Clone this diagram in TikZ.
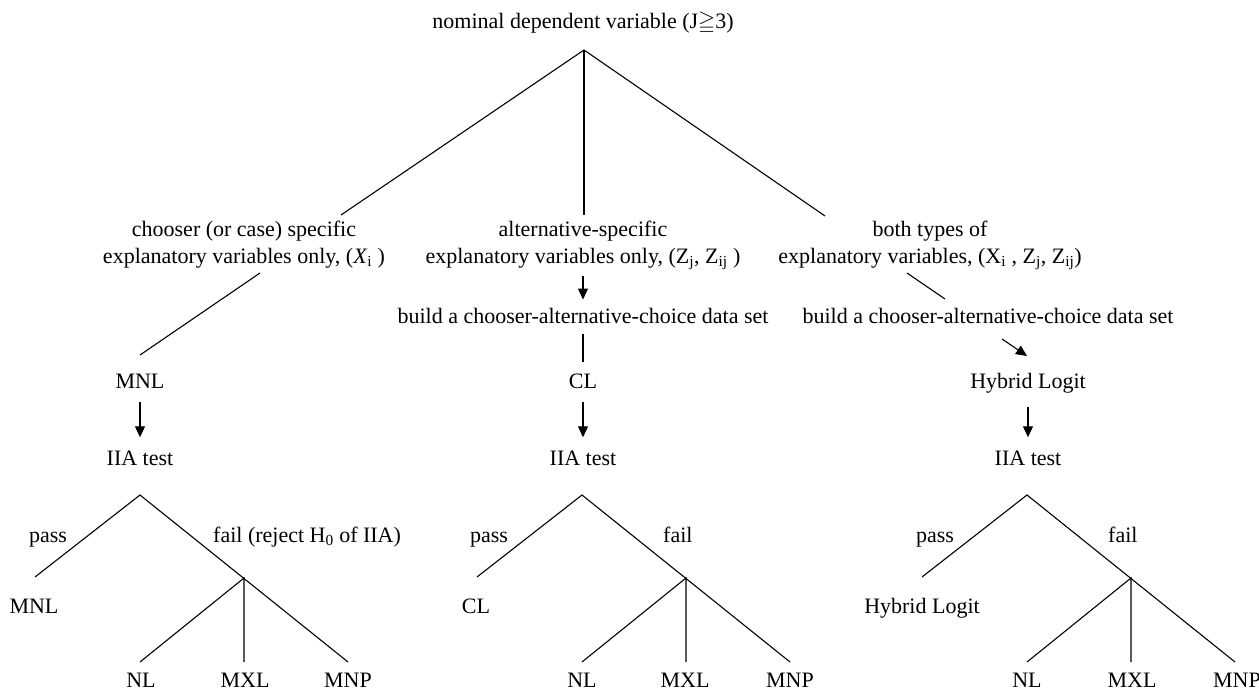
\documentclass[tikz,border=0pt]{standalone}
\usepackage{amssymb}
\usepackage{fontspec}
\setmainfont{Liberation Serif}
\usetikzlibrary{positioning}
\usetikzlibrary{arrows.meta}
\tikzset{
    mytext/.style = {inner sep=0pt, align=center, font=\fontsize{22}{27}\selectfont, text=black},
    mytextb/.style = {mytext, anchor=base},
    edgen/.style = {-, line width=1.1pt, black},
    edgea/.style = {-{Triangle[length=11pt,width=10pt]}, line width=1.1pt, black},
}

\begin{document}
\begin{tikzpicture}[x=1pt, y=-1pt]
  \useasboundingbox (0,0) rectangle (1259,698);

  % top
  \node[mytextb] (root) at (583,29) {nominal dependent variable (J$\geqq$3)};
  \coordinate (apex) at (584,50);
  \coordinate (endL) at (341,215);
  \coordinate (endM) at (584,215);
  \coordinate (endR) at (825,216);
  \draw[edgen] (endL) -- (apex) -- (endR);
  \draw[edgen] (apex) -- (endM);

  % second level
  \node[mytext] (chooser) at (244,245) {chooser (or case) specific\\explanatory variables only, (\textit{X}\textsubscript{i} )};
  \node[mytext] (altspec) at (583,245) {alternative-specific\\explanatory variables only, (Z\textsubscript{j}, Z\textsubscript{ij} )};
  \node[mytext] (both) at (930,245) {both types of\\explanatory variables, (X\textsubscript{i} , Z\textsubscript{j}, Z\textsubscript{ij})};

  \node[mytextb] (buildM) at (583,323) {build a chooser-alternative-choice data set};
  \node[mytextb] (buildR) at (988,323) {build a chooser-alternative-choice data set};

  \node[mytextb] (mnl) at (140,388) {MNL};
  \node[mytextb] (cl) at (583,388) {CL};
  \node[mytextb] (hybrid) at (1028,388) {Hybrid Logit};

  \node[mytextb] (iiaL) at (140,465) {IIA test};
  \node[mytextb] (iiaM) at (583,465) {IIA test};
  \node[mytextb] (iiaR) at (1028,465) {IIA test};

  % left column
  \coordinate (cL1) at (260,273);
  \coordinate (cL2) at (140,355);
  \draw[edgen] (cL1) -- (cL2);
  \draw[edgea, shorten <=14pt, shorten >=13pt] (mnl.south) -- (iiaL.north);

  % middle column
  \draw[edgea, shorten <=6pt, shorten >=8pt] (altspec.south) -- (buildM.north);
  \draw[edgen, shorten <=11pt, shorten >=11pt] (buildM.south) -- (cl.north);
  \draw[edgea, shorten <=14pt, shorten >=13pt] (cl.south) -- (iiaM.north);

  % right column
  \coordinate (cR1) at (907,273);
  \coordinate (cR2) at (945,299);
  \draw[edgen] (cR1) -- (cR2);
  \coordinate (cR3) at (1002,339);
  \coordinate (cR4) at (1027,356);
  \draw[edgea] (cR3) -- (cR4);
  \draw[edgea, shorten <=14pt, shorten >=13pt] (hybrid.south) -- (iiaR.north);

  % left test
  \coordinate (tL) at (140,495);
  \coordinate (pL) at (35,577);
  \coordinate (fL) at (244,578);
  \coordinate (rL) at (348,662);
  \coordinate (nL) at (140,662);
  \coordinate (xL) at (244,662);
  \draw[edgen] (pL) -- (tL) -- (rL);
  \draw[edgen] (nL) -- (fL) -- (xL);
  \node[mytextb] (passL) at (48,542) {pass};
  \node[mytextb, anchor=base west] (failL) at (213,542) {fail (reject H\textsubscript{0} of IIA)};
  \node[mytextb] (keepL) at (34,613) {MNL};
  \node[mytextb] (nlL) at (141,687) {NL};
  \node[mytextb] (mxlL) at (245,687) {MXL};
  \node[mytextb] (mnpL) at (348,687) {MNP};

  % middle test
  \coordinate (tM) at (582,495);
  \coordinate (pM) at (477,577);
  \coordinate (fM) at (686,578);
  \coordinate (rM) at (790,662);
  \coordinate (nM) at (582,662);
  \coordinate (xM) at (686,662);
  \draw[edgen] (pM) -- (tM) -- (rM);
  \draw[edgen] (nM) -- (fM) -- (xM);
  \node[mytextb] (passM) at (489,542) {pass};
  \node[mytextb, anchor=base west] (failM) at (663,542) {fail};
  \node[mytextb] (keepM) at (476,613) {CL};
  \node[mytextb] (nlM) at (582,687) {NL};
  \node[mytextb] (mxlM) at (685,687) {MXL};
  \node[mytextb] (mnpM) at (790,687) {MNP};

  % right test
  \coordinate (tR) at (1027,495);
  \coordinate (pR) at (922,577);
  \coordinate (fR) at (1131,578);
  \coordinate (rR) at (1235,662);
  \coordinate (nR) at (1027,662);
  \coordinate (xR) at (1131,662);
  \draw[edgen] (pR) -- (tR) -- (rR);
  \draw[edgen] (nR) -- (fR) -- (xR);
  \node[mytextb] (passR) at (935,542) {pass};
  \node[mytextb, anchor=base west] (failR) at (1108,542) {fail};
  \node[mytextb] (keepR) at (922,613) {Hybrid Logit};
  \node[mytextb] (nlR) at (1027,687) {NL};
  \node[mytextb] (mxlR) at (1132,687) {MXL};
  \node[mytextb] (mnpR) at (1237,687) {MNP};
\end{tikzpicture}
\end{document}
